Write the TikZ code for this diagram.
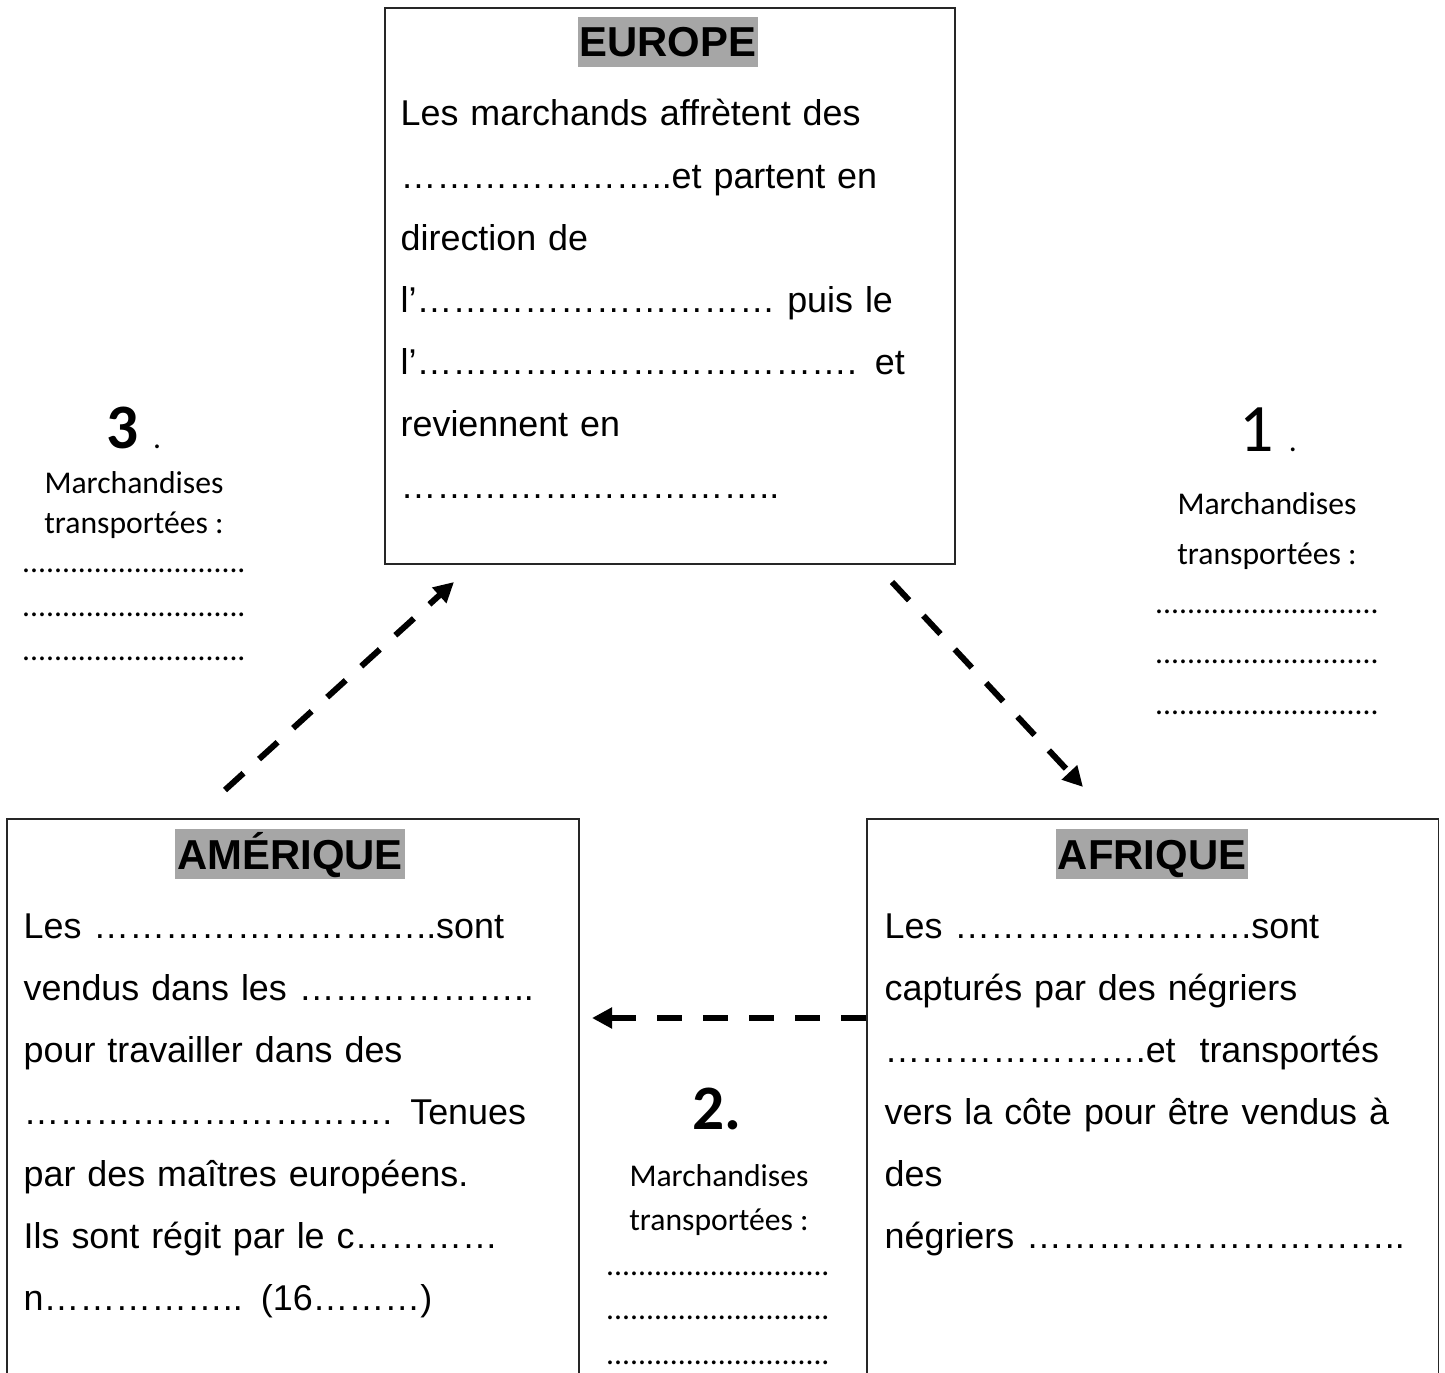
\documentclass[tikz,border=0pt]{standalone}
\usepackage{fontspec}
\setmainfont{Liberation Sans}
\newfontfamily\calib{Carlito}
\usetikzlibrary{arrows.meta}
\definecolor{hlgray}{HTML}{A6A6A6}
\newcommand\pts[1]{\foreach\k in {1,...,#1}{…}}
\newcommand\ligne{............................}

\tikzset{
  boxline/.style={draw=black!85,line width=0.5pt},
  zone/.style={inner sep=0pt,minimum width=5.7cm},
  titre/.style={fill=hlgray,inner xsep=0.5pt,inner ysep=0pt,text height=0.4cm,text depth=0.1cm,
    anchor=base,font=\fontsize{11.9}{14}\selectfont\bfseries},
  corps/.style={inner sep=0pt,anchor=base west,align=left,text width=5.6cm,
    font=\fontsize{10.2}{17.64}\selectfont},
  numero/.style={inner sep=0pt,anchor=base,font=\calib\fontsize{18}{20}\selectfont},
  marchand/.style={inner sep=0pt,anchor=base,align=center,font=\calib\fontsize{9}{11}\selectfont},
  fleche/.style={-{Triangle[length=0.2cm,width=0.2cm]},line width=0.06cm,
    dash pattern=on 0.25cm off 0.21cm},
}

\begin{document}
\begin{tikzpicture}[x=0.01cm,y=-0.01cm]
\useasboundingbox (0,0) rectangle (1445,1373);

% les trois cadres
\node[zone,boxline,minimum height=5.56cm] (europe) at (670,286) {};
\node[zone,minimum height=5.53cm] (amerique) at (293,1096.5) {};
\node[zone,minimum height=5.53cm] (afrique) at (1152.5,1096.5) {};
\draw[boxline] (amerique.south west) |- (amerique.north east) -- (amerique.south east);
\draw[boxline] (afrique.south west) |- (afrique.north east) -- (afrique.south east);

\node[titre] (tEurope) at (668,57) {EUROPE};
\node[titre] (tAmerique) at (290,869) {AMÉRIQUE};
\node[titre] (tAfrique) at (1152,869) {AFRIQUE};

\node[corps] (txtEurope) at (400,126) {Les marchands affrètent des\\
\pts{7}..et partent en\\
direction de\\
l’\pts{10} puis le\\
l’\pts{12}. et\\
reviennent en\\
\pts{10}..};

\node[corps] (txtAmerique) at (23,938) {Les \pts{9}..sont\\
vendus dans les \pts{6}..\\
pour travailler dans des\\
\pts{10}. Tenues\\
par des maîtres européens.\\
Ils sont régit par le c\pts{4}\\
n\pts{5}.. (16\pts{3})};

\node[corps] (txtAfrique) at (884,938) {Les \pts{8}.sont\\
capturés par des négriers\\
\pts{7}.et\ \ transportés\\
vers la côte pour être vendus à\\
des\\
négriers \pts{10}..};

% marchandises
\node[numero] (num3) at (134,448) {\bfseries 3\ {\fontsize{9}{11}\selectfont\mdseries .}};
\node[marchand,font=\calib\fontsize{9}{11.1}\selectfont] (march3) at (134,533) {Marchandises\\transportées :};
\node[marchand,font=\calib\fontsize{9}{12.5}\selectfont] (dots3) at (134,660) {\ligne\\\ligne\\\ligne};

\node[numero,font=\calib\fontsize{19.3}{21}\selectfont] (num1) at (1268,451) {1\ {\fontsize{9}{11}\selectfont .}};
\node[marchand,font=\calib\fontsize{9}{14.2}\selectfont] (march1) at (1267,564) {Marchandises\\transportées :};
\node[marchand,font=\calib\fontsize{9}{14.3}\selectfont] (dots1) at (1267,714) {\ligne\\\ligne\\\ligne};

\node[numero] (num2) at (717,1129) {\bfseries 2.};
\node[marchand,font=\calib\fontsize{9}{12.3}\selectfont] (march2) at (719,1230) {Marchandises\\transportées :};
\node[marchand,font=\calib\fontsize{9}{12.6}\selectfont] (dots2) at (718,1364) {\ligne\\\ligne\\\ligne};

% fleches
\coordinate (euSE) at (892,582);
\coordinate (afN) at (1083,787);
\coordinate (afW) at (866,1018);
\coordinate (amE) at (592,1018);
\coordinate (amN) at (225,790);
\coordinate (euSW) at (454,582);
\draw[fleche] (euSE) -- (afN);
\draw[fleche] (afW) -- (amE);
\draw[fleche] (amN) -- (euSW);
\end{tikzpicture}
\end{document}
